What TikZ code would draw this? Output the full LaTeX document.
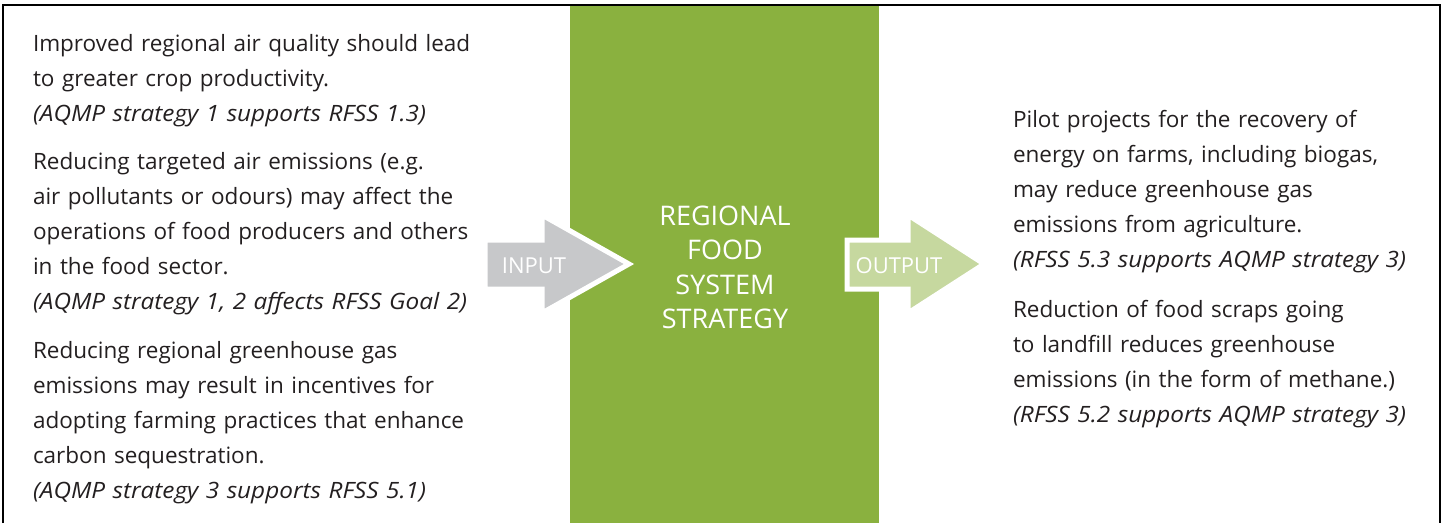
\documentclass[tikz,border=0pt]{standalone}
\usepackage{fontspec}
\setmainfont{Open Sans}[ItalicFeatures={FakeStretch=1.08}]
\definecolor{rfsgreen}{HTML}{8AB13F}
\definecolor{ingray}{HTML}{C7C8CA}
\definecolor{outgreen}{HTML}{C6D89F}
\definecolor{bodytext}{HTML}{231F20}

\begin{document}
\begin{tikzpicture}[x=1pt,y=-1pt]
    \tikzstyle{every node}+=[inner sep=0pt, outer sep=0pt]
    \tikzstyle{para}=[anchor=base west, text width=480pt, align=left, text=bodytext, font=\fontsize{22.5}{35}\selectfont]
    \tikzstyle{tag}=[anchor=base, text=white, font=\fontsize{22}{24}\selectfont]
    \useasboundingbox (0,0) rectangle (1445,523);
    \fill [rfsgreen] (570,6) rectangle (879,523);
    \draw [white, line width=5pt, fill=ingray] (485,240) -- (542,240) -- (542,215) -- (629,264) -- (542,313) -- (542,289) -- (485,289) -- cycle;
    \draw [white, line width=5pt, fill=outgreen] (847,240) -- (908,240) -- (908,215) -- (984,264) -- (908,313) -- (908,289) -- (847,289) -- cycle;
    \draw (534,273) node [tag] (inlabel) {INPUT};
    \draw (899,273) node [tag] (outlabel) {OUTPUT};
    \draw (725,225) node [anchor=base, text width=300pt, align=center, text=white, font=\fontsize{27}{34.5}\selectfont] (rfs) {REGIONAL\\FOOD\\SYSTEM\\STRATEGY};
    % left column
    \draw (33,51) node [para] (air1) {Improved regional air quality should lead\\to greater crop productivity.\\\textit{(AQMP strategy 1 supports RFSS 1.3)}};
    \draw (33,169) node [para] (air2) {Reducing targeted air emissions (e.g.\\air pollutants or odours) may affect the\\operations of food producers and others\\in the food sector.\\\textit{(AQMP strategy 1, 2 affects RFSS Goal 2)}};
    \draw (33,358) node [para] (air3) {Reducing regional greenhouse gas\\emissions may result in incentives for\\adopting farming practices that enhance\\carbon sequestration.\\\textit{(AQMP strategy 3 supports RFSS 5.1)}};
    % right column
    \draw (1013,127) node [para] (food1) {Pilot projects for the recovery of\\energy on farms, including biogas,\\may reduce greenhouse gas\\emissions from agriculture.\\\textit{(RFSS 5.3 supports AQMP strategy 3)}};
    \draw (1013,317) node [para] (food2) {Reduction of food scraps going\\to landfill reduces greenhouse\\emissions (in the form of methane.)\\\textit{(RFSS 5.2 supports AQMP strategy 3)}};
    \draw [black, line width=1.5pt] (3,523) -- (3,5) -- (1440,5) -- (1440,523);
\end{tikzpicture}
\end{document}
